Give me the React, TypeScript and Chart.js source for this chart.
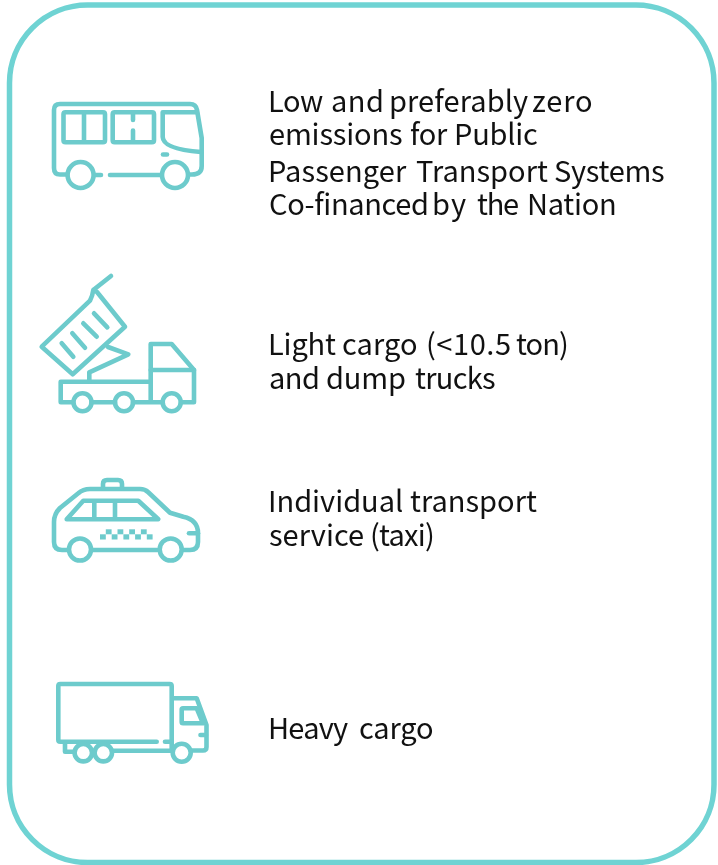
import React, { useEffect, useRef } from "react";
import { Chart, registerables } from "chart.js";

Chart.register(...registerables);

// Content
const categories = ["Public transport", "Light cargo", "Taxi", "Heavy cargo"];
const labelLines = [
  ["Low and preferably zero", "emissions for Public", "Passenger Transport Systems", "Co-financed by the Nation"],
  ["Light cargo (<10.5 ton)", "and dump trucks"],
  ["Individual transport", "service (taxi)"],
  ["Heavy cargo"],
];

// Layout, in the 718x865 scale units: baseline per line, ink extent per word
const baselines = [[112, 145, 182, 215], [355, 389], [512, 546], [739]];
const wordExtents = [
  [
    [[270, 323], [332, 382], [391, 528], [533, 592]],
    [[270, 402], [410, 448], [456, 537]],
    [[270, 407], [416, 548], [555, 664]],
    [[270, 427], [434, 466], [477, 518], [529, 615]],
  ],
  [
    [[270, 336], [343, 417], [428, 510], [516, 567]],
    [[270, 318], [327, 405], [415, 495]],
  ],
  [
    [[270, 402], [410, 537]],
    [[269, 363], [372, 433]],
  ],
  [[[270, 348], [360, 433]]],
];
const TEXT_FONT = '29px "Noto Sans CJK KR"';
const TEXT_COLOR = "#111111";
const BORDER = "#6FD3D3";
const ICON = "#6DCBCC";

const busIcon = [
  "M66 174.5H60Q54 174.5 54 168V110Q54 104 60 104H190Q196 104 197 110L201.7 138V166Q201.7 174.5 192 174.5H189",
  "M95 175H101M110 175H161",
  "M65.5 112.3H103Q105 112.3 105 114.3V140.3Q105 142.3 103 142.3H65.5Q63.5 142.3 63.5 140.3V114.3Q63.5 112.3 65.5 112.3ZM84 112.3V142.3",
  "M114.7 112.3H152Q154 112.3 154 114.3V140.3Q154 142.3 152 142.3H114.7Q112.7 142.3 112.7 140.3V114.3Q112.7 112.3 114.7 112.3ZM133 112.3V120M133 130.5V142.3",
  "M197 112.3H162.7V137Q163 149 201 152",
  "M163 154.5H167",
  "M93.6 175A13 13 0 1 1 67.6 175A13 13 0 1 1 93.6 175Z",
  "M188 175A13 13 0 1 1 162 175A13 13 0 1 1 188 175Z",
];
const dumpIcon = [
  "M73 402.3H60.7V381.7H150.7M91.5 402.3H115M133 402.3H162M181 402.3H194V370L171.7 344H150.7V402",
  "M150.7 370H194",
  "M89.3 381.7V372.3L128.3 354.3L108 347",
  "M93.3 290L97 292L125 326.7L72.7 374.3L41.7 346.7L90 300.7Q92.5 296 93.3 290L111 276",
  "M61.7 343.3L73.3 356.7M72.3 333.3L85 347.7M83.3 323.3L96.7 336.7M94 313.3L107.3 327.3",
  "M91.5 402.3A9 9 0 1 1 73.5 402.3A9 9 0 1 1 91.5 402.3Z",
  "M133 402.3A9 9 0 1 1 115 402.3A9 9 0 1 1 133 402.3Z",
  "M180.7 402.3A9 9 0 1 1 162.7 402.3A9 9 0 1 1 180.7 402.3Z",
];
const taxiIcon = [
  "M68 550H62Q54 550 54 542V522Q54 514 60 508L78.3 493.3Q83 489 90 489H140Q145 489 148 492L170 512.7L183.3 516.7Q198 520 198 533V542Q198 550 190 550H184",
  "M93 550H157",
  "M103 488V484Q103 480 107 480H118Q122 480 122 484V488",
  "M66.7 519.3L83.3 500.7H138.3L158.3 519.3ZM94.3 500.7V519M115 500.7V519",
  "M189 533.3H198",
  "M91 549.5A11 11 0 1 1 69 549.5A11 11 0 1 1 91 549.5Z",
  "M181.7 549.5A11 11 0 1 1 159.7 549.5A11 11 0 1 1 181.7 549.5Z",
];
const checkerTop = [105.8, 117.5, 129.2, 140.9];
const checkerBottom = [100, 111.7, 123.4, 135.1, 146.8];
const heavyIcon = [
  "M156.7 741.7H60.3Q58.3 741.7 58.3 739.7V686Q58.3 684 60.3 684H169.7Q171.7 684 171.7 686V750.7H113.5",
  "M165 741.7H171.7",
  "M65 744V751.7H74",
  "M173 698.3H196.7L206.5 725V747Q206.5 750.5 203 750.5H192",
  "M183 708.3H196.7L203 723.3H183Q181.7 723.3 181.7 722V709.5Q181.7 708.3 183 708.3Z",
  "M200.5 735H206",
  "M92 752.7A8.7 8.7 0 1 1 74.6 752.7A8.7 8.7 0 1 1 92 752.7Z",
  "M112 752.7A8.7 8.7 0 1 1 94.6 752.7A8.7 8.7 0 1 1 112 752.7Z",
  "M190.7 752.7A9 9 0 1 1 172.7 752.7A9 9 0 1 1 190.7 752.7Z",
];
const icons = [busIcon, dumpIcon, taxiIcon, heavyIcon];

const cardPlugin = {
  id: "card",
  afterDraw(chart: any) {
    const { ctx, scales } = chart;
    const ox = scales.x.getPixelForValue(0);
    const oy = scales.y.getPixelForValue(0);
    ctx.save();
    ctx.translate(ox, oy);

    ctx.strokeStyle = BORDER;
    ctx.lineWidth = 5.5;
    ctx.beginPath();
    ctx.roundRect(9.5, 5, 704.5, 857.5, 78);
    ctx.stroke();

    ctx.strokeStyle = ICON;
    ctx.fillStyle = ICON;
    ctx.lineWidth = 4.6;
    ctx.lineCap = "round";
    ctx.lineJoin = "round";
    icons.forEach((paths) => paths.forEach((d) => ctx.stroke(new Path2D(d))));
    checkerTop.forEach((x) => ctx.fillRect(x, 529.3, 5.8, 5));
    checkerBottom.forEach((x) => ctx.fillRect(x, 534.3, 5.8, 5.2));

    ctx.fillStyle = TEXT_COLOR;
    ctx.font = TEXT_FONT;
    ctx.textAlign = "left";
    ctx.textBaseline = "alphabetic";
    labelLines.forEach((lines, i) =>
      lines.forEach((line, j) =>
        line.split(" ").forEach((word, k) => {
          const [start, end] = wordExtents[i][j][k];
          ctx.letterSpacing = "0px";
          const m = ctx.measureText(word);
          const ink = m.actualBoundingBoxLeft + m.actualBoundingBoxRight;
          ctx.letterSpacing = `${(end - start - ink) / Math.max(1, word.length - 1)}px`;
          ctx.fillText(word, start + m.actualBoundingBoxLeft, baselines[i][j]);
        })
      )
    );
    ctx.restore();
  },
};

export default function App() {
  const ref = useRef<HTMLCanvasElement>(null);
  useEffect(() => {
    const chart = new Chart(ref.current!, {
      type: "scatter",
      data: { labels: categories, datasets: [{ data: [], pointRadius: 0 }] },
      options: {
        animation: false,
        responsive: false,
        layout: { padding: 0 },
        plugins: { legend: { display: false }, tooltip: { enabled: false } },
        scales: {
          x: { type: "linear", min: 0, max: 718, display: false },
          y: { type: "linear", min: 0, max: 865, reverse: true, display: false },
        },
      },
      plugins: [cardPlugin],
    });
    return () => chart.destroy();
  }, []);
  return (
    <div style={{ position: "fixed", left: 0, top: 0, width: 718, height: 865, background: "#fff" }}>
      <canvas ref={ref} width={718} height={865} style={{ display: "block" }} />
    </div>
  );
}
